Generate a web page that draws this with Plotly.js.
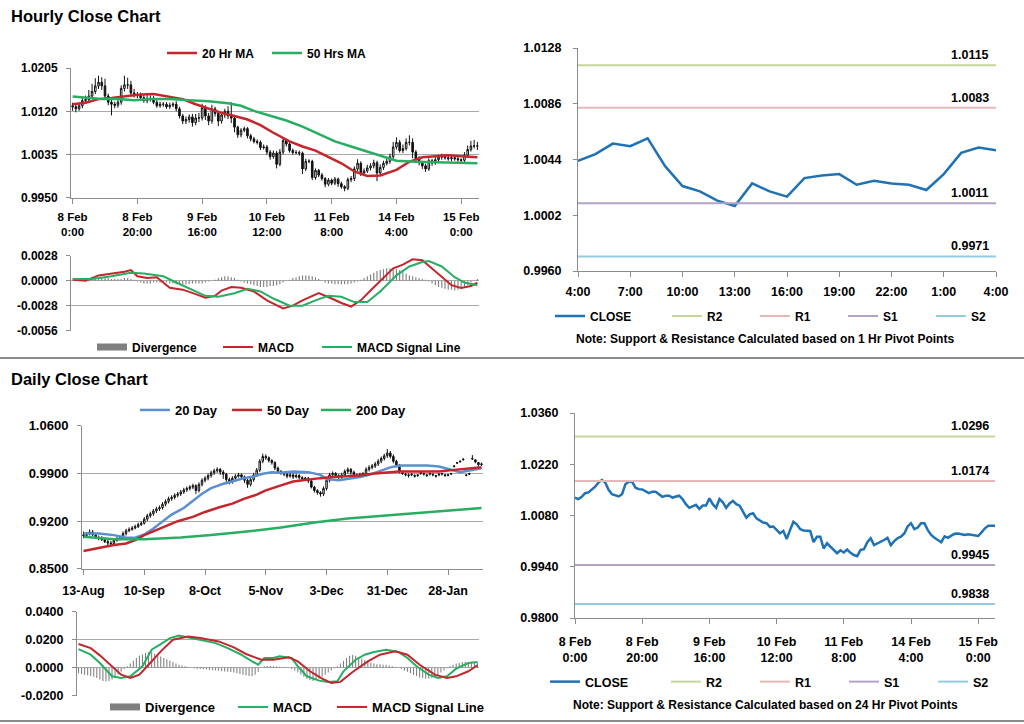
<!DOCTYPE html>
<html><head><meta charset="utf-8">
<script src="https://cdn.plot.ly/plotly-3.0.1.min.js"></script>
<style>html,body{margin:0;padding:0;background:#fff;}#chart{width:1024px;height:724px;}</style>
</head><body><div id="chart"></div>
<script>
// ---------- Hourly (8 Feb 0:00 .. 15 Feb) ----------
const hourTickPos = [0, 20, 40, 60, 80, 100, 120];
const hourTickText = ['8 Feb<br>0:00', '8 Feb<br>20:00', '9 Feb<br>16:00', '10 Feb<br>12:00', '11 Feb<br>8:00', '14 Feb<br>4:00', '15 Feb<br>0:00'];
const hC = [
1.0129,1.0125,1.0131,1.0141,1.0143,1.0150,1.0159,1.0170,1.0177,1.0170,
1.0150,1.0138,1.0134,1.0132,1.0138,1.0165,1.0172,1.0172,1.0156,1.0152,
1.0151,1.0147,1.0141,1.0145,1.0145,1.0138,1.0131,1.0134,1.0134,1.0129,
1.0132,1.0134,1.0125,1.0111,1.0101,1.0104,1.0109,1.0098,1.0107,1.0107,
1.0127,1.0111,1.0101,1.0125,1.0116,1.0101,1.0113,1.0120,1.0111,1.0107,
1.0089,1.0074,1.0083,1.0086,1.0072,1.0066,1.0061,1.0059,1.0049,1.0050,
1.0040,1.0031,1.0038,1.0016,1.0040,1.0063,1.0056,1.0043,1.0039,1.0039,
1.0038,1.0007,1.0022,1.0022,0.9990,1.0004,0.9995,0.9988,0.9977,0.9985,
0.9979,0.9987,0.9978,0.9972,0.9969,0.9986,0.9988,1.0007,1.0018,0.9999,
1.0003,1.0009,1.0013,1.0019,0.9999,1.0010,1.0018,1.0022,1.0031,1.0050,
1.0059,1.0043,1.0047,1.0059,1.0059,1.0040,1.0027,1.0019,1.0013,1.0007,
1.0023,1.0019,1.0025,1.0030,1.0031,1.0029,1.0027,1.0029,1.0027,1.0025,
1.0024,1.0034,1.0045,1.0052,1.0052,1.0052];
const hO = [
1.0131,1.0129,1.0125,1.0131,1.0141,1.0143,1.0150,1.0159,1.0170,1.0177,
1.0170,1.0150,1.0138,1.0134,1.0132,1.0138,1.0165,1.0172,1.0172,1.0156,
1.0152,1.0151,1.0147,1.0141,1.0145,1.0145,1.0138,1.0131,1.0134,1.0134,
1.0129,1.0132,1.0134,1.0125,1.0111,1.0101,1.0104,1.0109,1.0098,1.0107,
1.0107,1.0127,1.0111,1.0101,1.0125,1.0116,1.0101,1.0113,1.0120,1.0111,
1.0107,1.0089,1.0074,1.0083,1.0086,1.0072,1.0066,1.0061,1.0059,1.0049,
1.0050,1.0040,1.0031,1.0038,1.0016,1.0040,1.0063,1.0056,1.0043,1.0039,
1.0039,1.0038,1.0007,1.0022,1.0022,0.9990,1.0004,0.9995,0.9988,0.9977,
0.9985,0.9979,0.9987,0.9978,0.9972,0.9969,0.9986,0.9988,1.0007,1.0018,
0.9999,1.0003,1.0009,1.0013,1.0019,0.9999,1.0010,1.0018,1.0022,1.0031,
1.0050,1.0059,1.0043,1.0047,1.0059,1.0059,1.0040,1.0027,1.0019,1.0013,
1.0007,1.0023,1.0019,1.0025,1.0030,1.0031,1.0029,1.0027,1.0029,1.0027,
1.0025,1.0024,1.0034,1.0045,1.0052,1.0052];
const hH = [
1.0137,1.0134,1.0135,1.0147,1.0151,1.0162,1.0174,1.0185,1.0190,1.0187,
1.0184,1.0155,1.0144,1.0139,1.0146,1.0171,1.0190,1.0186,1.0180,1.0164,
1.0158,1.0157,1.0152,1.0152,1.0151,1.0150,1.0142,1.0139,1.0138,1.0138,
1.0137,1.0138,1.0140,1.0129,1.0115,1.0110,1.0114,1.0115,1.0115,1.0117,
1.0135,1.0132,1.0117,1.0133,1.0129,1.0121,1.0119,1.0125,1.0130,1.0138,
1.0111,1.0092,1.0087,1.0090,1.0089,1.0076,1.0070,1.0065,1.0063,1.0055,
1.0054,1.0044,1.0043,1.0042,1.0046,1.0067,1.0066,1.0060,1.0047,1.0044,
1.0043,1.0041,1.0027,1.0026,1.0025,1.0008,1.0007,0.9999,0.9991,0.9989,
0.9988,0.9991,0.9990,0.9982,0.9975,0.9990,0.9993,1.0012,1.0026,1.0022,
1.0008,1.0015,1.0018,1.0025,1.0023,1.0016,1.0023,1.0028,1.0037,1.0060,
1.0069,1.0064,1.0055,1.0067,1.0073,1.0067,1.0044,1.0032,1.0023,1.0017,
1.0028,1.0027,1.0031,1.0035,1.0037,1.0036,1.0033,1.0034,1.0033,1.0031,
1.0028,1.0040,1.0053,1.0062,1.0064,1.0060];
const hL = [
1.0121,1.0118,1.0121,1.0126,1.0136,1.0139,1.0146,1.0154,1.0164,1.0162,
1.0144,1.0132,1.0112,1.0126,1.0127,1.0133,1.0159,1.0164,1.0150,1.0147,
1.0146,1.0143,1.0137,1.0136,1.0139,1.0134,1.0127,1.0127,1.0129,1.0125,
1.0125,1.0128,1.0120,1.0106,1.0095,1.0095,1.0098,1.0090,1.0093,1.0099,
1.0102,1.0103,1.0093,1.0096,1.0110,1.0091,1.0096,1.0107,1.0105,1.0097,
1.0079,1.0068,1.0069,1.0079,1.0067,1.0061,1.0057,1.0055,1.0044,1.0045,
1.0035,1.0025,1.0027,1.0008,1.0012,1.0035,1.0051,1.0039,1.0035,1.0036,
1.0033,0.9997,1.0003,1.0018,0.9985,0.9986,0.9991,0.9984,0.9971,0.9973,
0.9975,0.9975,0.9972,0.9968,0.9963,0.9965,0.9981,0.9983,1.0002,0.9993,
0.9995,0.9999,1.0004,1.0008,0.9983,0.9995,1.0005,1.0014,1.0017,1.0026,
1.0045,1.0039,1.0038,1.0043,1.0053,1.0028,1.0021,1.0014,1.0007,1.0001,
1.0003,1.0013,1.0015,1.0021,1.0025,1.0025,1.0023,1.0022,1.0023,1.0021,
1.0018,1.0020,1.0029,1.0041,1.0047,1.0044];
const hMA20x = [0,4,8,12,17,21,25,30,34,38,42,46,50,54,58,62,67,71,75,79,83,87,91,95,100,104,108,112,116,120,125];
const hMA20y = [1.0134,1.0137,1.0144,1.0146,1.0150,1.0153,1.0154,1.0149,1.0144,1.0134,1.0126,1.0117,1.0111,1.0104,1.0093,1.0078,1.0061,1.0051,1.0043,1.0031,1.0018,1.0002,0.9993,0.9994,1.0005,1.0021,1.0030,1.0032,1.0034,1.0032,1.0030];
const hMA50x = [0,5,9,14,19,24,30,36,42,48,52,56,60,66,71,76,81,86,91,96,100,106,112,118,125];
const hMA50y = [1.0149,1.0147,1.0144,1.0144,1.0142,1.0144,1.0144,1.0142,1.0140,1.0136,1.0131,1.0121,1.0113,1.0102,1.0090,1.0076,1.0061,1.0051,1.0041,1.0030,1.0023,1.0021,1.0020,1.0018,1.0018];
const hMacdX = [0,4,8,12,16,18,20,23,26,30,34,38,41,44,46,49,52,56,60,65,68,71,74,76,80,83,86,89,92,95,99,102,105,108,111,114,117,120,123,125];
const hMacdY = [0.0001,0.0000,0.0006,0.0008,0.0010,0.0012,0.0005,0.0003,0.0004,-0.0008,-0.0010,-0.0015,-0.0019,-0.0017,-0.0011,-0.0007,-0.0008,-0.0012,-0.0022,-0.0031,-0.0028,-0.0022,-0.0017,-0.0014,-0.0020,-0.0025,-0.0029,-0.0022,-0.0011,0.0000,0.0014,0.0018,0.0024,0.0023,0.0014,0.0005,-0.0005,-0.0008,-0.0006,-0.0002];
const hSigX = [0,6,12,18,22,28,32,36,41,45,50,54,58,62,67,71,75,79,83,87,91,95,100,104,108,110,114,118,121,125];
const hSigY = [0.0002,0.0002,0.0005,0.0009,0.0008,0.0005,-0.0002,-0.0009,-0.0017,-0.0018,-0.0014,-0.0009,-0.0012,-0.0020,-0.0028,-0.0028,-0.0022,-0.0017,-0.0018,-0.0024,-0.0024,-0.0012,0.0006,0.0016,0.0021,0.0022,0.0016,0.0004,-0.0002,-0.0005];
const hDiv = [
0.0000,0.0000,0.0001,0.0001,0.0001,0.0002,0.0002,0.0002,0.0003,0.0003,
0.0003,0.0003,0.0002,0.0002,0.0002,0.0002,0.0003,0.0003,0.0002,0.0001,
-0.0001,-0.0002,-0.0003,-0.0003,-0.0003,-0.0002,-0.0002,-0.0002,-0.0001,-0.0002,
-0.0003,-0.0003,-0.0004,-0.0004,-0.0004,-0.0004,-0.0004,-0.0003,-0.0003,-0.0003,
-0.0003,-0.0002,-0.0001,0.0000,0.0001,0.0003,0.0004,0.0005,0.0005,0.0004,
0.0003,0.0001,-0.0001,-0.0002,-0.0003,-0.0004,-0.0005,-0.0006,-0.0007,-0.0007,
-0.0007,-0.0006,-0.0006,-0.0005,-0.0004,-0.0002,0.0000,0.0001,0.0003,0.0004,
0.0005,0.0006,0.0006,0.0006,0.0005,0.0004,0.0002,0.0000,-0.0002,-0.0003,
-0.0003,-0.0004,-0.0004,-0.0004,-0.0004,-0.0004,-0.0003,-0.0002,-0.0001,0.0001,
0.0003,0.0005,0.0007,0.0009,0.0011,0.0012,0.0013,0.0014,0.0014,0.0014,
0.0013,0.0012,0.0010,0.0008,0.0006,0.0005,0.0004,0.0003,0.0002,0.0001,
-0.0001,-0.0003,-0.0005,-0.0007,-0.0008,-0.0009,-0.0010,-0.0010,-0.0011,-0.0010,
-0.0009,-0.0007,-0.0005,-0.0002,0.0000,0.0002];
const hPriceTicks = [0.9950, 1.0035, 1.0120, 1.0205];
const hMacdTicks = [-0.0056, -0.0028, 0, 0.0028];
const hMacdTickText = ['-0.0056', '-0.0028', '0.0000', '0.0028'];

// ---------- Last 24 hours close with 1 Hr pivots ----------
const lastTickText = ['4:00', '7:00', '10:00', '13:00', '16:00', '19:00', '22:00', '1:00', '4:00'];
const lastClose = [1.0043,1.0048,1.0056,1.0054,1.0060,1.0039,1.0024,1.0020,1.0013,1.0009,1.0026,1.0020,1.0016,1.0030,1.0032,1.0033,1.0025,1.0028,1.0026,1.0025,1.0021,1.0033,1.0049,1.0053,1.0051];
const lastTicks = [0.9960, 1.0002, 1.0044, 1.0086, 1.0128];
const pivotNames = ['R2', 'R1', 'S1', 'S2'];
const pivotColors = ['#c4d79b', '#e6b9b8', '#b3a2c7', '#93cddd'];
const hourPivots = [1.0115, 1.0083, 1.0011, 0.9971];
const dayPivots = [1.0296, 1.0174, 0.9945, 0.9838];
const pivotDayTicks = [0.9800, 0.9940, 1.0080, 1.0220, 1.0360];

// ---------- Daily (13-Aug .. mid Feb) ----------
const dayTickPos = [0, 20, 40, 60, 80, 100, 120];
const dayTickText = ['13-Aug', '10-Sep', '8-Oct', '5-Nov', '3-Dec', '31-Dec', '28-Jan'];
const dC = [
0.8990,0.9020,0.9040,0.9000,0.8960,0.8950,0.8930,0.8900,0.8880,0.8870,
0.8920,0.8940,0.8960,0.9020,0.9060,0.9080,0.9100,0.9120,0.9150,0.9170,
0.9230,0.9280,0.9310,0.9350,0.9380,0.9400,0.9450,0.9490,0.9530,0.9550,
0.9580,0.9600,0.9630,0.9660,0.9680,0.9700,0.9720,0.9650,0.9740,0.9800,
0.9830,0.9870,0.9910,0.9940,0.9960,0.9920,0.9890,0.9810,0.9780,0.9830,
0.9860,0.9880,0.9850,0.9800,0.9740,0.9810,0.9880,0.9950,1.0080,1.0150,
1.0130,1.0090,1.0060,0.9980,0.9930,0.9910,0.9890,0.9860,0.9880,0.9850,
0.9870,0.9840,0.9820,0.9830,0.9790,0.9700,0.9650,0.9620,0.9600,0.9680,
0.9800,0.9880,0.9900,0.9870,0.9850,0.9880,0.9930,0.9960,0.9920,0.9880,
0.9870,0.9890,0.9900,0.9960,0.9990,1.0010,1.0040,1.0080,1.0120,1.0160,
1.0200,1.0150,1.0080,1.0020,0.9930,0.9900,0.9880,0.9870,0.9890,0.9860,
0.9880,0.9910,0.9890,0.9870,0.9900,0.9880,0.9860,0.9890,0.9900,0.9870,
0.9880,0.9900,1.0010,1.0060,1.0080,1.0110,0.9870,0.9890,1.0120,1.0070,
1.0030,1.0040];
const dO = [
0.9000,0.8990,0.9020,0.9040,0.9000,0.8960,0.8950,0.8930,0.8900,0.8880,
0.8870,0.8920,0.8940,0.8960,0.9020,0.9060,0.9080,0.9100,0.9120,0.9150,
0.9170,0.9230,0.9280,0.9310,0.9350,0.9380,0.9400,0.9450,0.9490,0.9530,
0.9550,0.9580,0.9600,0.9630,0.9660,0.9680,0.9700,0.9720,0.9650,0.9740,
0.9800,0.9830,0.9870,0.9910,0.9940,0.9960,0.9920,0.9890,0.9810,0.9780,
0.9830,0.9860,0.9880,0.9850,0.9800,0.9740,0.9810,0.9880,0.9950,1.0080,
1.0150,1.0130,1.0090,1.0060,0.9980,0.9930,0.9910,0.9890,0.9860,0.9880,
0.9850,0.9870,0.9840,0.9820,0.9830,0.9790,0.9700,0.9650,0.9620,0.9600,
0.9680,0.9800,0.9880,0.9900,0.9870,0.9850,0.9880,0.9930,0.9960,0.9920,
0.9880,0.9870,0.9890,0.9900,0.9960,0.9990,1.0010,1.0040,1.0080,1.0120,
1.0160,1.0200,1.0150,1.0080,1.0020,0.9910,0.9890,0.9880,0.9880,0.9870,
0.9870,0.9900,0.9900,0.9880,0.9890,0.9890,0.9870,0.9880,0.9890,0.9880,
0.9870,0.9890,1.0000,1.0050,1.0070,1.0100,0.9880,0.9900,1.0110,1.0100,
1.0060,1.0030];
const dH = [
0.9050,0.9040,0.9080,0.9070,0.9030,0.8990,0.8980,0.8960,0.8930,0.8910,
0.8950,0.8970,0.8990,0.9050,0.9090,0.9110,0.9130,0.9150,0.9180,0.9200,
0.9260,0.9310,0.9340,0.9380,0.9410,0.9430,0.9480,0.9520,0.9560,0.9580,
0.9610,0.9630,0.9660,0.9690,0.9710,0.9730,0.9750,0.9740,0.9770,0.9830,
0.9860,0.9900,0.9940,0.9970,0.9990,0.9980,0.9950,0.9910,0.9840,0.9860,
0.9890,0.9910,0.9900,0.9870,0.9820,0.9840,0.9910,0.9980,1.0110,1.0190,
1.0180,1.0150,1.0110,1.0080,1.0000,0.9950,0.9930,0.9910,0.9910,0.9900,
0.9900,0.9890,0.9860,0.9850,0.9850,0.9810,0.9720,0.9670,0.9640,0.9710,
0.9830,0.9910,0.9930,0.9920,0.9890,0.9910,0.9960,0.9990,0.9980,0.9940,
0.9900,0.9910,0.9920,0.9990,1.0020,1.0040,1.0070,1.0110,1.0150,1.0190,
1.0260,1.0230,1.0180,1.0100,1.0040,0.9940,0.9910,0.9900,0.9900,0.9890,
0.9890,0.9920,0.9910,0.9890,0.9910,0.9900,0.9880,0.9900,0.9910,0.9890,
0.9890,0.9910,1.0020,1.0070,1.0090,1.0120,0.9890,0.9910,1.0170,1.0110,
1.0070,1.0060];
const dL = [
0.8950,0.8960,0.8990,0.8980,0.8940,0.8920,0.8910,0.8880,0.8850,0.8840,
0.8850,0.8900,0.8920,0.8940,0.8990,0.9040,0.9060,0.9080,0.9100,0.9130,
0.9150,0.9200,0.9250,0.9280,0.9320,0.9350,0.9370,0.9420,0.9460,0.9500,
0.9520,0.9550,0.9570,0.9600,0.9630,0.9650,0.9670,0.9600,0.9620,0.9710,
0.9770,0.9800,0.9840,0.9880,0.9910,0.9880,0.9820,0.9740,0.9740,0.9750,
0.9800,0.9840,0.9820,0.9760,0.9690,0.9710,0.9780,0.9850,0.9920,1.0050,
1.0100,1.0060,1.0030,0.9950,0.9900,0.9880,0.9860,0.9830,0.9840,0.9820,
0.9830,0.9810,0.9790,0.9790,0.9760,0.9680,0.9620,0.9590,0.9560,0.9570,
0.9650,0.9770,0.9850,0.9840,0.9820,0.9820,0.9850,0.9900,0.9880,0.9850,
0.9840,0.9840,0.9860,0.9880,0.9930,0.9960,0.9980,1.0010,1.0050,1.0090,
1.0130,1.0120,1.0050,0.9990,0.9900,0.9880,0.9860,0.9840,0.9860,0.9840,
0.9850,0.9880,0.9870,0.9850,0.9870,0.9860,0.9840,0.9860,0.9870,0.9850,
0.9860,0.9880,0.9990,1.0040,1.0060,1.0090,0.9860,0.9880,1.0100,1.0050,
1.0000,1.0010];
const d20x = [0,5,10,14,17,20,23,26,29,33,36,39,42,46,49,52,56,59,62,65,69,74,78,80,84,87,91,94,98,101,104,109,113,117,121,124,127,131];
const d20y = [0.9020,0.9020,0.8996,0.8957,0.8957,0.9006,0.9093,0.9200,0.9297,0.9394,0.9492,0.9603,0.9686,0.9749,0.9783,0.9822,0.9856,0.9895,0.9919,0.9910,0.9930,0.9920,0.9880,0.9820,0.9800,0.9820,0.9850,0.9880,0.9940,0.9990,1.0017,1.0017,1.0017,1.0002,0.9958,0.9919,0.9944,0.9978];
const d50x = [0,5,10,14,17,20,24,27,31,36,40,45,49,53,57,60,63,65,69,74,78,82,87,91,95,100,104,109,113,117,122,126,131];
const d50y = [0.8763,0.8811,0.8850,0.8874,0.8923,0.8996,0.9069,0.9117,0.9200,0.9263,0.9336,0.9409,0.9458,0.9531,0.9589,0.9652,0.9700,0.9725,0.9783,0.9813,0.9832,0.9847,0.9861,0.9871,0.9895,0.9919,0.9929,0.9929,0.9929,0.9929,0.9953,0.9968,0.9992];
const d200x = [0,10,20,26,32,42,53,65,76,87,98,109,120,131];
const d200y = [0.8972,0.8937,0.8937,0.8947,0.8962,0.8996,0.9044,0.9108,0.9181,0.9239,0.9278,0.9312,0.9346,0.9394];
const dMacdX = [0,4,7,11,14,17,21,24,27,30,33,36,40,45,49,53,57,59,61,64,66,70,72,75,79,82,85,87,91,94,97,101,105,108,111,115,118,121,124,128,131];
const dMacdY = [0.0133,0.0093,0.0033,-0.0062,-0.0074,-0.0062,0.0010,0.0129,0.0169,0.0212,0.0231,0.0217,0.0200,0.0176,0.0140,0.0098,0.0045,0.0021,0.0069,0.0069,0.0081,0.0069,0.0010,-0.0062,-0.0093,-0.0102,-0.0098,-0.0026,0.0057,0.0093,0.0112,0.0129,0.0112,0.0069,0.0010,-0.0050,-0.0074,-0.0062,-0.0007,0.0033,0.0040];
const dSigX = [0,4,7,11,14,17,20,23,27,31,36,40,46,51,55,60,64,69,72,76,80,83,86,90,95,99,104,108,112,117,121,124,128,131];
const dSigY = [0.0169,0.0140,0.0088,0.0010,-0.0050,-0.0074,-0.0050,0.0021,0.0117,0.0200,0.0224,0.0212,0.0188,0.0145,0.0098,0.0057,0.0057,0.0074,0.0045,-0.0026,-0.0079,-0.0109,-0.0102,-0.0031,0.0045,0.0093,0.0117,0.0093,0.0021,-0.0050,-0.0074,-0.0062,-0.0026,0.0017];
const dDiv = [
-0.0040,-0.0045,-0.0050,-0.0055,-0.0060,-0.0065,-0.0075,-0.0085,-0.0095,-0.0100,
-0.0095,-0.0085,-0.0070,-0.0050,-0.0030,-0.0010,0.0010,0.0030,0.0050,0.0070,
0.0085,0.0095,0.0105,0.0110,0.0110,0.0100,0.0090,0.0080,0.0070,0.0060,
0.0050,0.0040,0.0030,0.0020,0.0015,0.0010,0.0005,0.0000,-0.0005,-0.0010,
-0.0010,-0.0012,-0.0014,-0.0016,-0.0018,-0.0020,-0.0022,-0.0025,-0.0028,-0.0030,
-0.0032,-0.0035,-0.0040,-0.0045,-0.0050,-0.0055,-0.0060,-0.0060,-0.0050,-0.0030,
0.0000,0.0010,0.0012,0.0012,0.0010,0.0008,0.0006,0.0004,0.0002,0.0000,
-0.0010,-0.0020,-0.0035,-0.0050,-0.0065,-0.0080,-0.0090,-0.0095,-0.0090,-0.0080,
-0.0065,-0.0050,-0.0035,-0.0020,-0.0005,0.0010,0.0030,0.0050,0.0070,0.0085,
0.0090,0.0085,0.0075,0.0065,0.0055,0.0045,0.0035,0.0030,0.0025,0.0025,
0.0020,0.0020,0.0015,0.0010,0.0005,0.0000,-0.0010,-0.0020,-0.0030,-0.0040,
-0.0050,-0.0060,-0.0070,-0.0075,-0.0080,-0.0080,-0.0075,-0.0065,-0.0050,-0.0035,
-0.0020,-0.0005,0.0010,0.0020,0.0030,0.0035,0.0040,0.0040,0.0040,0.0040,
0.0038,0.0035];
const dPriceTicks = [0.85, 0.92, 0.99, 1.06];
const dPriceTickText = ['0.8500', '0.9200', '0.9900', '1.0600'];
const dMacdTicks = [-0.02, 0, 0.02, 0.04];
const dMacdTickText = ['-0.0200', '0.0000', '0.0200', '0.0400'];

// ---------- layout helpers ----------
const W = 1024, H = 724;
const fx = p => p / W;
const fy = p => 1 - p / H;
const FONT = '"Liberation Sans", Arial, sans-serif';
const fnt = s => ({family: FONT, size: s, color: '#000', weight: 700});
const GRID = '#a9a9a9', AXIS = '#8c8c8c';
const RED = '#c3262c', GREEN = '#27ae62', BLUE20 = '#5b8fcf', CLOSEC = '#1f72b5', DIVC = '#7f7f7f';
const hIdx = hC.map((v, i) => i);
const dIdx = dC.map((v, i) => i);
const lastIdx = lastClose.map((v, i) => i);

function yax(domain, range, anchor, tickvals, ticktext, grid, fs, standoff) {
  return {domain: domain, range: range, anchor: anchor, tickvals: tickvals, ticktext: ticktext, tickformat: '.4f',
    showgrid: grid, gridcolor: GRID, gridwidth: 1, zeroline: false, showline: true, linecolor: AXIS, linewidth: 1,
    ticks: 'outside', ticklen: 4, tickcolor: AXIS, tickfont: fnt(fs), ticklabelstandoff: standoff, fixedrange: true};
}
function xax(domain, range, anchor, tickvals, ticktext, showlabels, fs, standoff) {
  return {domain: domain, range: range, anchor: anchor, tickvals: tickvals, ticktext: ticktext,
    showticklabels: showlabels, showgrid: false, zeroline: false, showline: showlabels, linecolor: AXIS, linewidth: 1,
    ticks: showlabels ? 'outside' : '', ticklen: 5, tickcolor: AXIS, tickfont: fnt(fs || 12), tickangle: 0,
    ticklabelstandoff: standoff || 0, rangeslider: {visible: false}, fixedrange: true};
}
function legendAt(left, cy, fs) {
  return {orientation: 'h', x: fx(left - 5), y: fy(cy), xanchor: 'left', yanchor: 'middle',
    font: fnt(fs), bgcolor: 'rgba(0,0,0,0)', borderwidth: 0, itemwidth: 30, traceorder: 'normal'};
}
function line(x, y, name, color, width, xa, ya, leg, lw) {
  const t = {type: 'scatter', mode: 'lines', x: x, y: y, name: name, line: {color: color, width: width},
    xaxis: xa, yaxis: ya, legend: leg, hoverinfo: 'skip'};
  if (lw) t.legendwidth = lw;
  return t;
}

const traces = [];
// top-left price
traces.push({type: 'candlestick', x: hIdx, open: hO, high: hH, low: hL, close: hC, xaxis: 'x', yaxis: 'y',
  increasing: {line: {color: '#111', width: 1}, fillcolor: '#ffffff'},
  decreasing: {line: {color: '#111', width: 1}, fillcolor: '#111'}, showlegend: false, hoverinfo: 'skip'});
traces.push(line(hMA20x, hMA20y, '20 Hr MA', RED, 2.5, 'x', 'y', 'legend', 60));
traces.push(line(hMA50x, hMA50y, '50 Hrs MA', GREEN, 2.5, 'x', 'y', 'legend'));
// top-left MACD
traces.push({type: 'bar', x: hIdx, y: hDiv, name: 'Divergence', marker: {color: DIVC, line: {width: 0}}, width: 0.35,
  xaxis: 'x2', yaxis: 'y2', showlegend: false, hoverinfo: 'skip'});
traces.push(line([null], [null], 'Divergence', DIVC, 7, 'x2', 'y2', 'legend2', 81));
traces.push(line(hMacdX, hMacdY, 'MACD', RED, 2, 'x2', 'y2', 'legend2', 54));
traces.push(line(hSigX, hSigY, 'MACD Signal Line', GREEN, 2, 'x2', 'y2', 'legend2'));
// top-right
traces.push(line(lastIdx, lastClose, 'CLOSE', CLOSEC, 2.5, 'x3', 'y3', 'legend3', 72));
pivotNames.forEach((n, k) => traces.push(line([0, lastIdx.length - 1], [hourPivots[k], hourPivots[k]], n, pivotColors[k], 2, 'x3', 'y3', 'legend3', k < 3 ? 43 : 0)));
// bottom-left price
traces.push({type: 'candlestick', x: dIdx, open: dO, high: dH, low: dL, close: dC, xaxis: 'x4', yaxis: 'y4',
  increasing: {line: {color: '#111', width: 1}, fillcolor: '#ffffff'},
  decreasing: {line: {color: '#111', width: 1}, fillcolor: '#111'}, showlegend: false, hoverinfo: 'skip'});
traces.push(line(d20x, d20y, '20 Day', BLUE20, 2.5, 'x4', 'y4', 'legend4', 47));
traces.push(line(d50x, d50y, '50 Day', RED, 2.5, 'x4', 'y4', 'legend4', 44));
traces.push(line(d200x, d200y, '200 Day', GREEN, 2.5, 'x4', 'y4', 'legend4'));
// bottom-left MACD
traces.push({type: 'bar', x: dIdx, y: dDiv, name: 'Divergence', marker: {color: DIVC, line: {width: 0}}, width: 0.35,
  xaxis: 'x5', yaxis: 'y5', showlegend: false, hoverinfo: 'skip'});
traces.push(line([null], [null], 'Divergence', DIVC, 7, 'x5', 'y5', 'legend5', 83));
traces.push(line(dMacdX, dMacdY, 'MACD', GREEN, 2, 'x5', 'y5', 'legend5', 54));
traces.push(line(dSigX, dSigY, 'MACD Signal Line', RED, 2, 'x5', 'y5', 'legend5'));
// bottom-right
traces.push(line(hIdx, hC, 'CLOSE', CLOSEC, 2.5, 'x6', 'y6', 'legend6', 76));
pivotNames.forEach((n, k) => traces.push(line([0, hIdx.length - 1], [dayPivots[k], dayPivots[k]], n, pivotColors[k], 2, 'x6', 'y6', 'legend6', k < 3 ? 44 : 0)));

const ann = [];
function txt(text, x, y, xanchor, size) {
  ann.push({text: text, xref: 'paper', yref: 'paper', x: fx(x), y: fy(y), xanchor: xanchor, yanchor: 'middle',
    showarrow: false, font: fnt(size)});
}
txt('Hourly Close Chart', 9, 16, 'left', 16.5);
txt('Daily Close Chart', 9, 379, 'left', 16.5);
txt('Note: Support &amp; Resistance Calculated based on 1 Hr Pivot Points', 765, 339, 'center', 12);
txt('Note: Support &amp; Resistance Calculated based on 24 Hr Pivot Points', 765, 705, 'center', 12);
hourPivots.forEach(v => ann.push({text: v.toFixed(4), xref: 'paper', yref: 'y3', x: fx(991), y: v, yshift: 10,
  xanchor: 'right', yanchor: 'middle', showarrow: false, font: fnt(12.5)}));
dayPivots.forEach(v => ann.push({text: v.toFixed(4), xref: 'paper', yref: 'y6', x: fx(991), y: v, yshift: 10,
  xanchor: 'right', yanchor: 'middle', showarrow: false, font: fnt(12.5)}));

const layout = {
  width: W, height: H, autosize: false, margin: {l: 0, r: 0, t: 0, b: 0, pad: 0},
  paper_bgcolor: '#fff', plot_bgcolor: 'rgba(0,0,0,0)', font: fnt(12), dragmode: false, hovermode: false,
  xaxis: xax([fx(71), fx(479)], [-0.5, 125.5], 'y', hourTickPos, hourTickText, true, 11.5, 3),
  yaxis: yax([fy(198), fy(68)], [0.99499, 1.02051], 'x', hPriceTicks, null, true, 12, 6),
  xaxis2: xax([fx(71), fx(479)], [-0.5, 125.5], 'y2', hourTickPos, hourTickText, false),
  yaxis2: yax([fy(330.7), fy(255.7)], [-0.00561, 0.00281], 'x2', hMacdTicks, hMacdTickText, true, 12, 6),
  xaxis3: xax([fx(578), fx(996)], [0, 24], 'y3', [0, 3, 6, 9, 12, 15, 18, 21, 24], lastTickText, true, 12.5, 4),
  yaxis3: yax([fy(271), fy(48)], [0.996, 1.0128], 'x3', lastTicks, null, false, 12.5, 9),
  xaxis4: xax([fx(82), fx(483)], [-0.5, 131.5], 'y4', dayTickPos, dayTickText, true, 12.5, 5),
  yaxis4: yax([fy(569), fy(425.7)], [0.8499, 1.0601], 'x4', dPriceTicks, dPriceTickText, true, 13, 6),
  xaxis5: xax([fx(77), fx(479)], [-0.5, 131.5], 'y5', dayTickPos, dayTickText, false),
  yaxis5: yax([fy(695.7), fy(611.7)], [-0.0201, 0.0401], 'x5', dMacdTicks, dMacdTickText, true, 12.5, 6),
  xaxis6: xax([fx(575), fx(995)], [0, 125], 'y6', hourTickPos, hourTickText, true, 12.5, 7),
  yaxis6: yax([fy(618), fy(413)], [0.98, 1.036], 'x6', pivotDayTicks, null, false, 12.5, 9),
  legend: legendAt(167, 53, 12),
  legend2: legendAt(97, 347, 12),
  legend3: legendAt(555, 316, 12),
  legend4: legendAt(140, 410, 13),
  legend5: legendAt(110, 707, 13),
  legend6: legendAt(550, 682, 12.5),
  annotations: ann,
  shapes: [
    {type: 'line', xref: 'paper', yref: 'paper', x0: 0, x1: 1, y0: fy(358), y1: fy(358), line: {color: '#8a8a8a', width: 2}},
    {type: 'line', xref: 'paper', yref: 'paper', x0: 0, x1: 1, y0: fy(721), y1: fy(721), line: {color: '#8a8a8a', width: 2}}
  ],
  showlegend: true, barmode: 'overlay'
};

Plotly.newPlot('chart', traces, layout, {staticPlot: true, displayModeBar: false});
</script></body></html>
